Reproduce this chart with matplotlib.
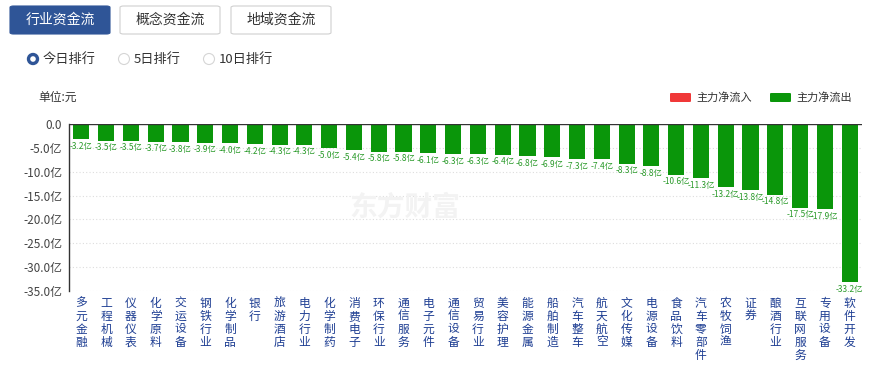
import matplotlib
matplotlib.use('Agg')
import matplotlib.pyplot as plt
from matplotlib.patches import FancyBboxPatch, Ellipse
import numpy as np

plt.rcParams['font.family'] = ['Noto Sans CJK SC', 'DejaVu Sans']

sectors = ['多元金融', '工程机械', '仪器仪表', '化学原料', '交运设备', '钢铁行业', '化学制品', '银行',
           '旅游酒店', '电力行业', '化学制药', '消费电子', '环保行业', '通信服务', '电子元件', '通信设备',
           '贸易行业', '美容护理', '能源金属', '船舶制造', '汽车整车', '航天航空', '文化传媒', '电源设备',
           '食品饮料', '汽车零部件', '农牧饲渔', '证券', '酿酒行业', '互联网服务', '专用设备', '软件开发']
net_flow = [-3.2, -3.5, -3.5, -3.7, -3.8, -3.9, -4.0, -4.2, -4.3, -4.3, -5.0, -5.4, -5.8, -5.8, -6.1, -6.3,
            -6.3, -6.4, -6.8, -6.9, -7.3, -7.4, -8.3, -8.8, -10.6, -11.3, -13.2, -13.8, -14.8, -17.5, -17.9, -33.2]
yticks = [0, -5, -10, -15, -20, -25, -30, -35]
ytick_labels = ['0.0', '-5.0亿', '-10.0亿', '-15.0亿', '-20.0亿', '-25.0亿', '-30.0亿', '-35.0亿']

W, H = 871, 365
fig = plt.figure(figsize=(W / 100, H / 100), dpi=100)

def fx(px):
    return px / W

def fy(py):
    return 1 - py / H

# tab buttons
tabs = [('行业资金流', 10, True), ('概念资金流', 120, False), ('地域资金流', 231, False)]
for name, x0, active in tabs:
    box = FancyBboxPatch((fx(x0), fy(34)), fx(100), 28 / H, transform=fig.transFigure,
                         boxstyle='round,pad=0,rounding_size=0.004',
                         facecolor='#2f5597' if active else 'white',
                         edgecolor='#2f5597' if active else '#d0d0d0', linewidth=0.8)
    fig.patches.append(box)
    fig.text(fx(x0 + 50), fy(20), name, ha='center', va='center', fontsize=10,
             color='white' if active else '#333333')

# radio buttons
radios = [('今日排行', 33, True), ('5日排行', 124, False), ('10日排行', 209, False)]
for name, cx, on in radios:
    if on:
        fig.patches.append(Ellipse((fx(cx), fy(59)), 9 / W, 9 / H, transform=fig.transFigure,
                                   facecolor='white', edgecolor='#2f5597', linewidth=2.4))
    else:
        fig.patches.append(Ellipse((fx(cx), fy(59)), 11 / W, 11 / H, transform=fig.transFigure,
                                   facecolor='white', edgecolor='#d5d5d5', linewidth=0.8))
    fig.text(fx(cx + 10), fy(59), name, ha='left', va='center', fontsize=9.5, color='#333333')

fig.text(fx(38), fy(97), '单位:元', ha='left', va='center', fontsize=8.5, color='#333333')

# legend
for label, color, x0 in [('主力净流入', '#f03838', 670), ('主力净流出', '#0a960a', 770)]:
    fig.patches.append(FancyBboxPatch((fx(x0), fy(102)), fx(21), 9 / H, transform=fig.transFigure,
                                      boxstyle='round,pad=0,rounding_size=0.002',
                                      facecolor=color, edgecolor='none'))
    fig.text(fx(x0 + 26), fy(97.5), label, ha='left', va='center', fontsize=8, color='#333333')

# watermark
fig.text(fx(405), fy(208), '东方财富', ha='center', va='center', fontsize=20,
         color='#f3f3f3', fontweight='bold', zorder=0)

ax = fig.add_axes([fx(69), fy(291), fx(862 - 69), (291 - 124) / H])
ax.set_facecolor('none')
x = np.arange(len(sectors))
ax.bar(x, net_flow, width=0.65, color='#0a960a', zorder=3)
for xi, v in zip(x, net_flow):
    ax.annotate('%.1f亿' % v, (xi, v), xytext=(0, -2), textcoords='offset points',
                ha='center', va='top', fontsize=6, color='#2a9a2a')

ax.set_xlim(-0.5, len(sectors) - 0.5)
ax.set_ylim(-35, 0)
ax.set_yticks(yticks)
ax.set_yticklabels(ytick_labels, fontsize=8.5, color='#444444')
ax.set_xticks(x)
ax.set_xticklabels(['\n'.join(s) for s in sectors], fontsize=8.5, color='#1f3f93',
                   va='top', linespacing=1.0)
ax.tick_params(axis='both', length=0, pad=5)
ax.tick_params(axis='x', pad=4)
for yv in yticks[1:]:
    ax.axhline(yv, color='#dddddd', linestyle=(0, (1, 2)), linewidth=0.8, zorder=1)
ax.axhline(0, color='#333333', linewidth=1, zorder=4)
for side in ['top', 'right', 'bottom']:
    ax.spines[side].set_visible(False)
ax.spines['left'].set_color('#333333')
ax.spines['left'].set_linewidth(1)

fig.savefig('out.png', dpi=100)
